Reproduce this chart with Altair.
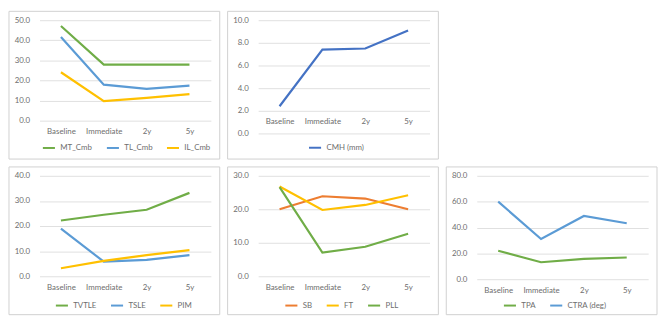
import altair as alt
import pandas as pd

cats = ["Baseline", "Immediate", "2y", "5y"]

# Panel 1
p1_series = ["MT_Cmb", "TL_Cmb", "IL_Cmb"]
p1_mt = [47.1, 27.9, 27.9, 27.9]
p1_tl = [41.6, 17.9, 15.8, 17.4]
p1_il = [24.1, 9.7, 11.3, 13.2]
p1_ticks = [0, 10, 20, 30, 40, 50]

# Panel 2
p2_series = ["CMH (mm)"]
p2_cmh = [2.4, 7.4, 7.5, 9.1]
p2_ticks = [0, 2, 4, 6, 8, 10]

# Panel 3
p3_series = ["TVTLE", "TSLE", "PIM"]
p3_a = [22.2, 24.5, 26.5, 33.2]
p3_b = [19.0, 5.8, 6.5, 8.4]
p3_c = [3.2, 6.1, 8.4, 10.4]
p3_ticks = [0, 10, 20, 30, 40]

# Panel 4
p4_series = ["SB", "FT", "PLL"]
p4_sb = [20.0, 23.9, 23.2, 20.0]
p4_ft = [26.8, 19.8, 21.3, 24.2]
p4_pll = [26.6, 7.1, 8.8, 12.7]
p4_ticks = [0, 10, 20, 30]

# Panel 5
p5_series = ["TPA", "CTRA (deg)"]
p5_tpa = [22.0, 13.1, 15.7, 16.8]
p5_ctra = [60.0, 31.1, 48.9, 43.3]
p5_ticks = [0, 20, 40, 60, 80]

GREEN = "#70AD47"
BLUE = "#5B9BD5"
YELLOW = "#FFC000"
ORANGE = "#ED7D31"
NAVY = "#4472C4"

FONT = "Lato"
TXT = "#6E6E6E"
GRID = "#E0E0E0"
FS = 8

PW = 174  # plot width
SYM = 150
COLPAD = 10


def legend_width(names):
    w = 0
    for n in names:
        w += SYM ** 0.5 + 4 + len(n) * FS * 0.55
    return w + COLPAD * (len(names) - 1)


def panel(names, values, colors, ticks, height=102, x_offset=0, ly=122):
    rows = []
    for name, vals in zip(names, values):
        for c, v in zip(cats, vals):
            rows.append({"cat": c, "series": name, "value": v})
    df = pd.DataFrame(rows)
    lx = 76 - legend_width(names) / 2
    lines = alt.Chart(df).mark_line(strokeWidth=2.2).encode(
        x=alt.X("cat:N", sort=cats,
                scale=alt.Scale(type="point", padding=0.5),
                axis=alt.Axis(title=None, labelAngle=0, domain=False, ticks=False,
                              grid=False, offset=x_offset, labelPadding=7,
                              labelFont=FONT, labelFontSize=FS, labelColor=TXT)),
        y=alt.Y("value:Q",
                scale=alt.Scale(domain=[0, max(ticks)], nice=False, zero=True),
                axis=alt.Axis(title=None, values=ticks, format=".1f", domain=False,
                              ticks=False, grid=True, gridColor=GRID, gridWidth=1,
                              labelPadding=10, labelFont=FONT, labelFontSize=FS,
                              labelColor=TXT)),
        color=alt.Color("series:N", sort=names,
                        scale=alt.Scale(domain=names, range=colors),
                        legend=alt.Legend(title=None, orient="none", direction="horizontal",
                                          legendX=lx, legendY=ly,
                                          symbolType="stroke", symbolStrokeWidth=2,
                                          symbolSize=SYM, labelFontSize=FS, labelFont=FONT,
                                          labelColor=TXT, columnPadding=COLPAD, padding=0)),
    )
    border = alt.Chart(pd.DataFrame({"b": [0]})).mark_rect(
        fill="transparent", stroke="#D0D0D0", strokeWidth=1
    ).encode(
        x=alt.value(-31), x2=alt.value(183), y=alt.value(-9), y2=alt.value(141)
    )
    return alt.layer(border, lines).properties(width=PW, height=height)


c1 = panel(p1_series, [p1_mt, p1_tl, p1_il], [GREEN, BLUE, YELLOW], p1_ticks, height=102)
c2 = panel(p2_series, [p2_cmh], [NAVY], p2_ticks, height=115, x_offset=-23)
c3 = panel(p3_series, [p3_a, p3_b, p3_c], [GREEN, BLUE, YELLOW], p3_ticks, height=102, ly=124)
c4 = panel(p4_series, [p4_sb, p4_ft, p4_pll], [ORANGE, YELLOW, GREEN], p4_ticks, height=102, ly=124)
c5 = panel(p5_series, [p5_tpa, p5_ctra], [GREEN, BLUE], p5_ticks, height=105, ly=124)

top = alt.hconcat(c1, c2, spacing=6).resolve_scale(color="independent", x="independent", y="independent")
bottom = alt.hconcat(c3, c4, c5, spacing=6).resolve_scale(color="independent", x="independent", y="independent")

chart = alt.vconcat(top, bottom, spacing=6).resolve_scale(
    color="independent", x="independent", y="independent"
).properties(padding=0, background="white").configure_view(strokeWidth=0)

chart.save("out.html", embed_options={"renderer": "svg", "actions": False})
